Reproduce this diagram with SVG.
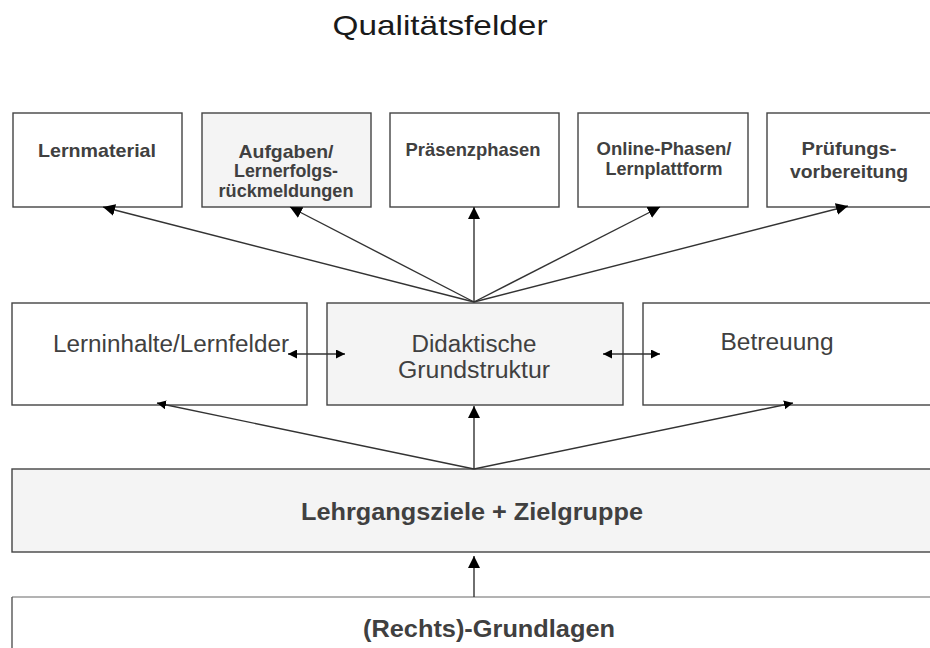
<svg xmlns="http://www.w3.org/2000/svg" width="930" height="648" viewBox="0 0 930 648">
  <style>
    .box { stroke: #444; stroke-width: 1.4; }
    .white { fill: #ffffff; }
    .grey { fill: #f4f4f4; }
    .tb { font-family: "Liberation Sans", Arial, sans-serif; font-weight: bold; font-size: 19px; fill: #404040; text-anchor: middle; }
    .tm { font-family: "Liberation Sans", Arial, sans-serif; font-size: 23px; fill: #404040; text-anchor: middle; }
    .tl { font-family: "Liberation Sans", Arial, sans-serif; font-weight: bold; font-size: 23px; fill: #404040; text-anchor: middle; }
    .title { font-family: "Liberation Sans", Arial, sans-serif; font-size: 28px; fill: #1a1a1a; text-anchor: middle; }
    .conn { stroke: #333; stroke-width: 1.4; fill: none; }
  </style>
  <defs>
    <marker id="ah" markerUnits="userSpaceOnUse" markerWidth="12" markerHeight="12" refX="12" refY="6" orient="auto">
      <path d="M0,0 L12,6 L0,12 z" fill="#000"/>
    </marker>
    <marker id="ahs" markerUnits="userSpaceOnUse" markerWidth="9" markerHeight="9" refX="9" refY="4.5" orient="auto-start-reverse">
      <path d="M0,0 L9,4.5 L0,9 z" fill="#000"/>
    </marker>
  </defs>
  <rect width="930" height="648" fill="#ffffff"/>

  <text class="title" x="440" y="35" textLength="215" lengthAdjust="spacingAndGlyphs">Qualitätsfelder</text>

  <g id="node-lernmaterial">
    <rect class="box white" x="13" y="113" width="169" height="94"/>
    <text class="tb" x="97" y="157" textLength="118" lengthAdjust="spacingAndGlyphs">Lernmaterial</text>
  </g>
  <g id="node-aufgaben">
    <rect class="box grey" x="202" y="113" width="169" height="94"/>
    <text class="tb" x="286" y="158" textLength="95" lengthAdjust="spacingAndGlyphs">Aufgaben/</text>
    <text class="tb" x="286" y="177" textLength="104" lengthAdjust="spacingAndGlyphs">Lernerfolgs-</text>
    <text class="tb" x="286" y="197" textLength="135" lengthAdjust="spacingAndGlyphs">rückmeldungen</text>
  </g>
  <g id="node-praesenz">
    <rect class="box white" x="390" y="113" width="169" height="94"/>
    <text class="tb" x="473" y="156" textLength="135" lengthAdjust="spacingAndGlyphs">Präsenzphasen</text>
  </g>
  <g id="node-online">
    <rect class="box white" x="578" y="113" width="170" height="94"/>
    <text class="tb" x="664" y="155" textLength="135" lengthAdjust="spacingAndGlyphs">Online-Phasen/</text>
    <text class="tb" x="664" y="175" textLength="117" lengthAdjust="spacingAndGlyphs">Lernplattform</text>
  </g>
  <g id="node-pruefung">
    <rect class="box white" x="767" y="113" width="175" height="94"/>
    <text class="tb" x="849" y="155" textLength="95" lengthAdjust="spacingAndGlyphs">Prüfungs-</text>
    <text class="tb" x="849" y="178" textLength="118" lengthAdjust="spacingAndGlyphs">vorbereitung</text>
  </g>

  <g id="node-lerninhalte">
    <rect class="box white" x="12" y="303" width="295" height="102"/>
    <text class="tm" x="171" y="352" textLength="236" lengthAdjust="spacingAndGlyphs">Lerninhalte/Lernfelder</text>
  </g>
  <g id="node-didaktik">
    <rect class="box grey" x="327" y="303" width="296" height="102"/>
    <text class="tm" x="474" y="352" textLength="125" lengthAdjust="spacingAndGlyphs">Didaktische</text>
    <text class="tm" x="474" y="378" textLength="152" lengthAdjust="spacingAndGlyphs">Grundstruktur</text>
  </g>
  <g id="node-betreuung">
    <rect class="box white" x="643" y="303" width="300" height="102"/>
    <text class="tm" x="777" y="350" textLength="113" lengthAdjust="spacingAndGlyphs">Betreuung</text>
  </g>

  <g id="node-lehrgang">
    <rect class="box grey" x="12" y="469" width="931" height="83"/>
    <text class="tl" x="472" y="520" textLength="342" lengthAdjust="spacingAndGlyphs">Lehrgangsziele + Zielgruppe</text>
  </g>
  <g id="node-rechts">
    <rect class="white" x="12" y="597" width="931" height="60"/>
    <line x1="12" y1="597" x2="943" y2="597" stroke="#9a9a9a" stroke-width="1.6"/>
    <line x1="12" y1="597" x2="12" y2="648" stroke="#555" stroke-width="1.4"/>
    <text class="tl" x="489" y="637" textLength="252" lengthAdjust="spacingAndGlyphs">(Rechts)-Grundlagen</text>
  </g>

  <g id="connectors">
    <line class="conn" x1="474" y1="302" x2="103" y2="207" marker-end="url(#ah)"/>
    <line class="conn" x1="474" y1="302" x2="290" y2="207" marker-end="url(#ah)"/>
    <line class="conn" x1="474" y1="302" x2="474" y2="207" marker-end="url(#ah)"/>
    <line class="conn" x1="474" y1="302" x2="660" y2="207" marker-end="url(#ah)"/>
    <line class="conn" x1="474" y1="302" x2="848" y2="206" marker-end="url(#ah)"/>

    <line class="conn" x1="474" y1="469" x2="157" y2="403" marker-end="url(#ahs)"/>
    <line class="conn" x1="474" y1="469" x2="474" y2="406" marker-end="url(#ah)"/>
    <line class="conn" x1="474" y1="469" x2="793" y2="403" marker-end="url(#ahs)"/>

    <line class="conn" x1="288" y1="354" x2="345" y2="354" marker-start="url(#ahs)" marker-end="url(#ahs)"/>
    <line class="conn" x1="603" y1="354" x2="660" y2="354" marker-start="url(#ahs)" marker-end="url(#ahs)"/>

    <line class="conn" x1="474" y1="597" x2="474" y2="556" marker-end="url(#ah)"/>
  </g>
</svg>
